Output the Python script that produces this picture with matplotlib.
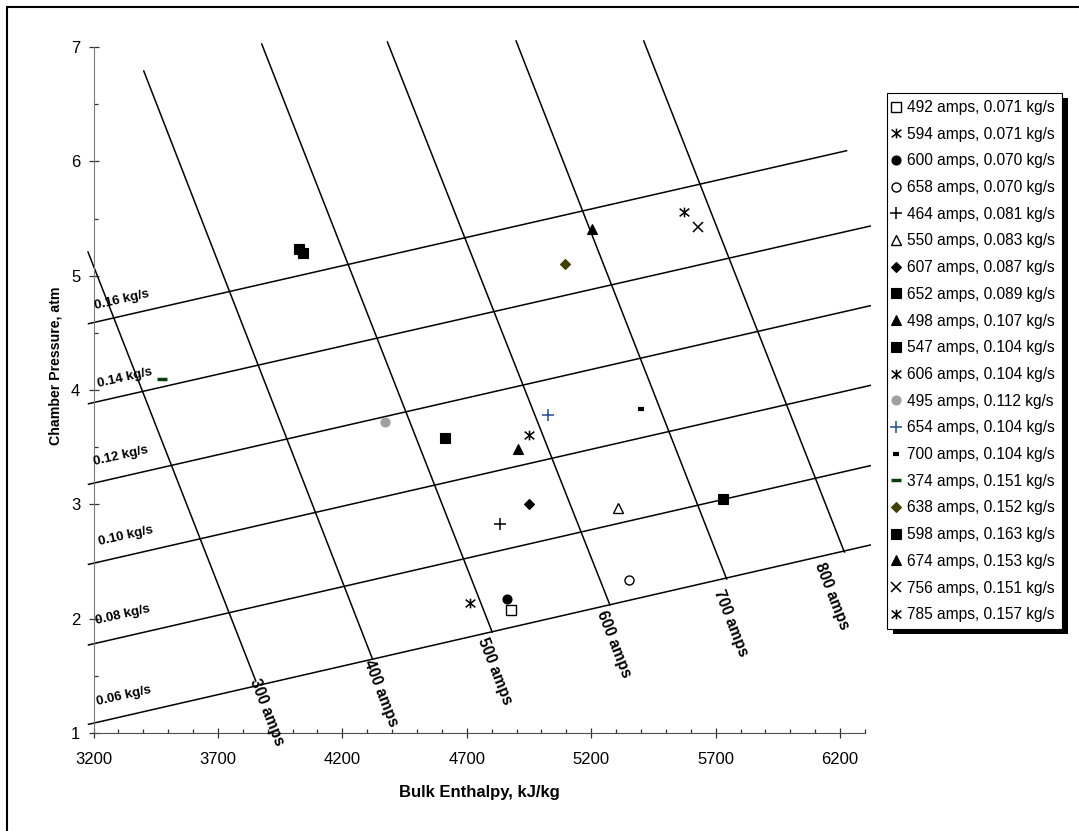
import matplotlib
matplotlib.use('Agg')
import matplotlib.pyplot as plt
from matplotlib.path import Path
from matplotlib.patches import Rectangle
from matplotlib.ticker import MultipleLocator
from matplotlib.transforms import IdentityTransform
from matplotlib import font_manager
import numpy as np

plt.rcParams['font.family'] = ['Liberation Sans', 'DejaVu Sans']

# ---------------- data ----------------
# constant mass-flow lines (enthalpy kJ/kg, pressure atm)
flow_labels = ['0.06 kg/s', '0.08 kg/s', '0.10 kg/s', '0.12 kg/s', '0.14 kg/s', '0.16 kg/s']
flow_h0 = [3180, 3180, 3180, 3180, 3180, 3180]
flow_p0 = [1.076, 1.77, 2.475, 3.175, 3.88, 4.58]
flow_h1 = [6321, 6321, 6321, 6321, 6321, 6226]
flow_p1 = [2.644, 3.338, 4.04, 4.737, 5.434, 6.093]
flow_label_h = [3320, 3318, 3330, 3310, 3326, 3314]
flow_label_p = [1.328, 2.03, 2.727, 3.42, 4.105, 4.787]

# constant current lines
amp_labels = ['300 amps', '400 amps', '500 amps', '600 amps', '700 amps', '800 amps']
amp_h0 = [3178, 3402, 3876, 4381, 4898, 5411]
amp_p0 = [5.207, 6.79, 7.026, 7.044, 7.053, 7.053]
amp_h1 = [3852, 4321, 4802, 5275, 5744, 6217]
amp_p1 = [1.455, 1.647, 1.883, 2.12, 2.347, 2.583]
amp_label_h = [3895, 4355, 4812, 5289, 5762, 6167]
amp_label_p = [1.18, 1.345, 1.54, 1.78, 1.96, 2.20]

# measured test points
series_labels = [
    '492 amps, 0.071 kg/s', '594 amps, 0.071 kg/s', '600 amps, 0.070 kg/s',
    '658 amps, 0.070 kg/s', '464 amps, 0.081 kg/s', '550 amps, 0.083 kg/s',
    '607 amps, 0.087 kg/s', '652 amps, 0.089 kg/s', '498 amps, 0.107 kg/s',
    '547 amps, 0.104 kg/s', '606 amps, 0.104 kg/s', '495 amps, 0.112 kg/s',
    '654 amps, 0.104 kg/s', '700 amps, 0.104 kg/s', '374 amps, 0.151 kg/s',
    '638 amps, 0.152 kg/s', '598 amps, 0.163 kg/s', '674 amps, 0.153 kg/s',
    '756 amps, 0.151 kg/s', '785 amps, 0.157 kg/s']
series_h = [[4879], [4712], [4861], [5350], [4835], [5308], [4950], [5729],
            [4906], [4612], [4950], [4373], [5027], [5401], [3477], [5095],
            [4025, 4041], [5204], [5629], [5572]]
series_p = [[2.08], [2.14], [2.17], [2.34], [2.83], [2.97], [3.00], [3.05],
            [3.48], [3.58], [3.61], [3.72], [3.78], [3.83], [4.10], [5.10],
            [5.23, 5.20], [5.41], [5.43], [5.56]]

x_major = [3200, 3700, 4200, 4700, 5200, 5700, 6200]
y_major = [1, 2, 3, 4, 5, 6, 7]

# ---------------- styles ----------------
star = Path([(0, -1), (0, 1), (-1, -0.8), (1, 0.8), (-1, 0.8), (1, -0.8)],
            [Path.MOVETO, Path.LINETO] * 3)
K = 'black'
sq_f = dict(marker='s', ms=6.5, mfc=K, mec=K, mew=0.8)
sq_o = dict(marker='s', ms=6.5, mfc='white', mec=K, mew=1.0)
st = dict(marker=star, ms=7, mfc='none', mec=K, mew=1.1)
ci_f = dict(marker='o', ms=6.5, mfc=K, mec=K, mew=0.8)
ci_o = dict(marker='o', ms=6.5, mfc='white', mec=K, mew=1.0)
pl = dict(marker='+', ms=8, mec=K, mew=1.1)
tr_o = dict(marker='^', ms=7, mfc='white', mec=K, mew=1.0)
tr_f = dict(marker='^', ms=7, mfc=K, mec=K, mew=0.8)
di = dict(marker='D', ms=5.5, mfc=K, mec=K, mew=0.8)
styles = [sq_o, st, ci_f, ci_o, pl, tr_o, di, sq_f, tr_f, sq_f, st,
          dict(marker='o', ms=6.5, mfc='#a0a0a0', mec='#a0a0a0', mew=0.8),
          dict(marker='+', ms=8, mec='#1f4f8f', mew=1.1),
          dict(marker='_', ms=4.5, mec=K, mew=3),
          dict(marker='_', ms=7, mec='#0b400b', mew=2.5),
          dict(marker='D', ms=5.5, mfc='#404000', mec='#404000', mew=0.8),
          sq_f, tr_f,
          dict(marker='x', ms=6.5, mec=K, mew=1.1),
          st]

names = {f.name for f in font_manager.fontManager.ttflist}
if 'Liberation Sans Narrow' in names:
    lab_family = ['Liberation Sans Narrow', 'Liberation Sans']
    flow_fs, amp_fs = 11.0, 13.0
else:
    lab_family = ['Liberation Sans', 'DejaVu Sans']
    flow_fs, amp_fs = 9.5, 11.2

# ---------------- figure ----------------
W, H = 1079, 831
fig = plt.figure(figsize=(W / 100, H / 100), dpi=100)
ax = fig.add_axes([93.5 / W, 98 / H, 771.5 / W, 686 / H])
ax.set_xlim(3200, 6300)
ax.set_ylim(1, 7)

for h0, p0, h1, p1 in zip(flow_h0, flow_p0, flow_h1, flow_p1):
    ax.plot([h0, h1], [p0, p1], color='black', lw=1.1, clip_on=False, zorder=2)
for h0, p0, h1, p1 in zip(amp_h0, amp_p0, amp_h1, amp_p1):
    ax.plot([h0, h1], [p0, p1], color='black', lw=1.1, clip_on=False, zorder=2)

for lab, h, p in zip(flow_labels, flow_label_h, flow_label_p):
    ax.text(h, p, lab, rotation=12.8, rotation_mode='anchor', ha='center',
            va='center', fontweight='bold', family=lab_family, fontsize=flow_fs,
            zorder=4, clip_on=False)
for lab, h, p in zip(amp_labels, amp_label_h, amp_label_p):
    ax.text(h, p, lab, rotation=-68.6, rotation_mode='anchor', ha='center',
            va='center', fontweight='bold', family=lab_family, fontsize=amp_fs,
            zorder=4, clip_on=False)

handles = []
for lab, hs, ps, sty in zip(series_labels, series_h, series_p, styles):
    ln, = ax.plot(hs, ps, linestyle='none', zorder=3, clip_on=False, **sty)
    handles.append(ln)

# axes styling
for s in ['top', 'right']:
    ax.spines[s].set_visible(False)
ax.spines['left'].set_color('#7a7a7a')
ax.spines['bottom'].set_color('#505050')
ax.set_xticks(x_major)
ax.set_yticks(y_major)
ax.xaxis.set_minor_locator(MultipleLocator(100))
ax.yaxis.set_minor_locator(MultipleLocator(0.5))
ax.tick_params(which='major', direction='inout', length=7, width=0.9,
               color='#303030', labelsize=12)
ax.tick_params(which='minor', direction='in', length=3, width=0.9, color='#303030')
ax.tick_params(axis='x', which='major', pad=10)
ax.tick_params(axis='y', which='major', pad=6)

ax.set_xlabel('Bulk Enthalpy, kJ/kg', fontsize=12, fontweight='bold', va='center')
ax.xaxis.set_label_coords(0.5, (733 - 792) / 686)
ax.set_ylabel('Chamber Pressure, atm', fontsize=10.2, fontweight='bold',
              va='center', ha='center')
ax.yaxis.set_label_coords((56 - 93.5) / 771.5, 0.536)

leg = fig.legend(handles, series_labels, loc='upper left',
                 bbox_to_anchor=(887 / W, 1 - 93 / H), bbox_transform=fig.transFigure,
                 frameon=True, fancybox=False, edgecolor='black', framealpha=1,
                 fontsize=11.2, borderpad=0.45, handlelength=0.2, handletextpad=0.63,
                 labelspacing=0.752, borderaxespad=0, numpoints=1)
leg.get_frame().set_linewidth(0.8)

# outer frame (left & top edges visible)
fig.add_artist(Rectangle((7, -50), 1300, H - 7 + 50, transform=IdentityTransform(),
                         fill=False, edgecolor='black', lw=1.5, zorder=10))

fig.canvas.draw()
bb = leg.get_window_extent()
fig.add_artist(Rectangle((bb.x0 + 6, bb.y0 - 5), bb.width, bb.height,
                         transform=IdentityTransform(), facecolor='black',
                         edgecolor='none', zorder=leg.get_zorder() - 0.1))

fig.savefig('out.png', dpi=100)
